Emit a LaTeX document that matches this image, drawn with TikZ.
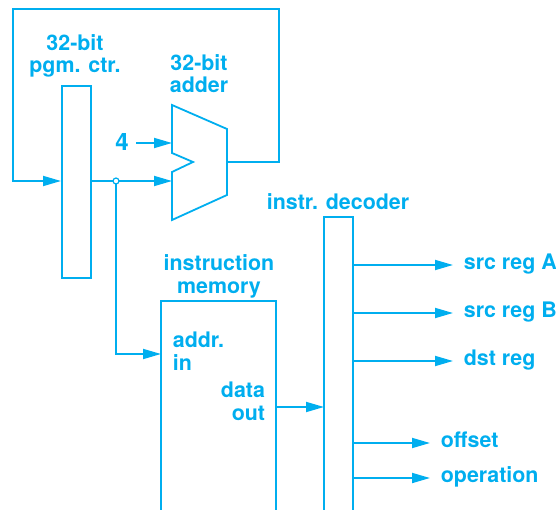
\documentclass[tikz,border=0pt]{standalone}
\usepackage{fontspec}
\setmainfont{TeX Gyre Heros}
\usetikzlibrary{arrows.meta}
\definecolor{cy}{HTML}{00AEEF}
\begin{document}
\begin{tikzpicture}[x=1pt,y=-1pt,
  line width=1.8pt,
  wire/.style={draw=cy,line width=1.8pt},
  arr/.style={wire,-{Triangle[length=18pt,width=10pt]}},
  lbl/.style={text=cy,font=\fontsize{21.4}{22.8}\selectfont\bfseries,inner sep=0pt},
  box/.style={draw=cy,line width=1.8pt,inner sep=0pt}]
\useasboundingbox (0,0) rectangle (556,510);
% program counter
\node[box,minimum width=29pt,minimum height=192pt,anchor=north west] (pc) at (61,85) {};
\node[lbl,align=center,anchor=base] (pclbl) at (75,73) {32-bit\\pgm. ctr.};
% adder
\coordinate (a1) at (172,105);
\coordinate (a2) at (227,129);
\coordinate (a3) at (227,195);
\coordinate (a4) at (172,220);
\coordinate (a5) at (172,172);
\coordinate (a6) at (193,162);
\coordinate (a7) at (172,153);
\draw[wire,line join=miter] (a1) -- (a2) -- (a3) -- (a4) -- (a5) -- (a6) -- (a7) -- cycle;
\coordinate (addin1) at (172,143);
\coordinate (addin2) at (172,181);
\coordinate (addout) at (227,162);
\node[lbl,align=center,anchor=base] (addlbl) at (199,93) {32-bit\\adder};
\node[lbl,anchor=base,font=\fontsize{24}{26}\selectfont\bfseries] (four) at (122,151) {4};
\coordinate (fourout) at (136,143);
\draw[arr] (fourout) -- (addin1);
% feedback loop
\coordinate (l1) at (279,162);
\coordinate (l2) at (279,9);
\coordinate (l3) at (13,9);
\coordinate (l4) at (13,181);
\draw[arr] (addout) -- (l1) -- (l2) -- (l3) -- (l4) -- (pc.west |- l4);
% pc output
\coordinate (jn) at (116,181);
\draw[arr] (pc.east |- jn) -- (addin2);
\draw[draw=cy,fill=white,line width=1.2pt] (jn) circle (3pt);
% instruction memory
\coordinate (m1) at (161,515);
\coordinate (m2) at (161,301);
\coordinate (m3) at (276,301);
\coordinate (m4) at (276,515);
\draw[wire] (m1) -- (m2) -- (m3) -- (m4);
\node[lbl,align=center,anchor=base] (memlbl) at (219,293) {instruction\\memory};
\coordinate (jd) at (116,184);
\coordinate (addrin) at (161,354);
\draw[arr] (jd) |- (addrin);
\node[lbl,align=left,anchor=base west] (addrlbl) at (172,370) {addr.\\in};
\node[lbl,align=right,anchor=base east] (datalbl) at (266,420) {data\\out};
% decoder
\coordinate (d1) at (324,515);
\coordinate (d2) at (324,217);
\coordinate (d3) at (353,217);
\coordinate (d4) at (353,515);
\draw[wire] (d1) -- (d2) -- (d3) -- (d4);
\node[lbl,anchor=base] (declbl) at (338,210) {instr. decoder};
\coordinate (dataout) at (276,407);
\coordinate (decin) at (324,407);
\draw[arr] (dataout) -- (decin);
% outputs
\foreach \y/\t/\n in {265/src reg A/oa,313/src reg B/ob,361/dst reg/oc}{
  \coordinate (\n s) at (353,\y);
  \node[lbl,anchor=base west] (\n) at (463,\y+4.5) {\t};
  \draw[arr] (\n s) -- (453,\y);
}
\foreach \y/\t/\n in {443/offset/od,478/operation/oe}{
  \coordinate (\n s) at (353,\y);
  \node[lbl,anchor=base west] (\n) at (440,\y+4.5) {\t};
  \draw[arr] (\n s) -- (430,\y);
}
\end{tikzpicture}
\end{document}
